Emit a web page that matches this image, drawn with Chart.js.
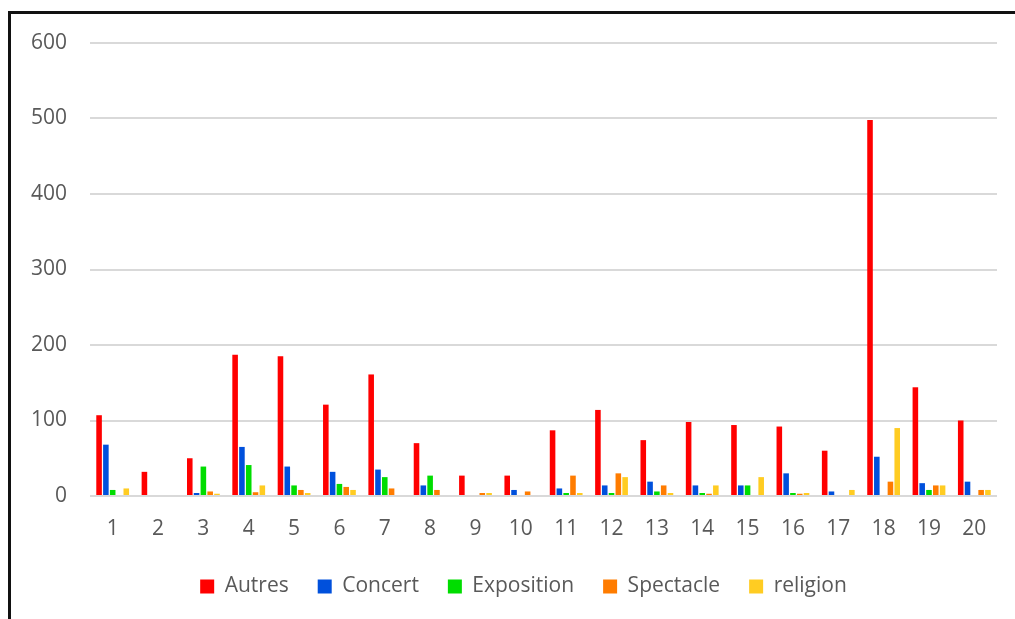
<!DOCTYPE html>
<html>
<head>
<meta charset="utf-8">
<script src="https://cdn.jsdelivr.net/npm/chart.js@4.4.1/dist/chart.umd.min.js"></script>
<style>
  html, body { margin: 0; padding: 0; background: #ffffff; }
  #wrap { position: relative; width: 1015px; height: 619px; overflow: hidden; }
  #frame {
    position: absolute; left: 8px; top: 11px; right: -10px; bottom: -10px;
    border-left: 3px solid #111; border-top: 3px solid #111;
    pointer-events: none;
  }
  canvas { position: absolute; left: 0; top: 0; }
</style>
</head>
<body>
<div id="wrap">
  <canvas id="chart" width="1015" height="619"></canvas>
  <div id="frame"></div>
</div>
<script>
// Categories (1..20) and values per activity type
const categories = ['1','2','3','4','5','6','7','8','9','10','11','12','13','14','15','16','17','18','19','20'];
const autres     = [107, 32, 50, 187, 185, 121, 161, 70, 27, 27, 87, 114, 74, 98, 94, 92, 60, 498, 144, 100];
const concert    = [68, 0, 4, 65, 39, 32, 35, 14, 0, 8, 10, 14, 19, 14, 14, 30, 6, 52, 17, 19];
const exposition = [8, 0, 39, 41, 14, 16, 25, 27, 0, 0, 4, 4, 6, 4, 14, 4, 0, 0, 8, 0];
const spectacle  = [0, 0, 6, 5, 8, 12, 10, 8, 4, 6, 27, 30, 14, 3, 0, 3, 0, 19, 14, 8];
const religion   = [10, 0, 3, 14, 4, 8, 0, 0, 4, 0, 4, 25, 4, 14, 25, 4, 8, 90, 14, 8];
const yTicks     = [0, 100, 200, 300, 400, 500, 600];

const FONT = "'Open Sans', 'DejaVu Sans', sans-serif";
const TEXT = '#595959';

const series = [
  { label: 'Autres',     data: autres,     color: '#ff0000' },
  { label: 'Concert',    data: concert,    color: '#0050dc' },
  { label: 'Exposition', data: exposition, color: '#00dd00' },
  { label: 'Spectacle',  data: spectacle,  color: '#ff7c00' },
  { label: 'religion',   data: religion,   color: '#ffcc22' }
];

// Centre the legend under the whole frame rather than the padded layout box
const legendShift = {
  id: 'legendShift',
  afterLayout(chart) {
    const lg = chart.legend;
    if (lg) { lg.left += 20; lg.right += 20; }
  }
};

new Chart(document.getElementById('chart'), {
  type: 'bar',
  data: {
    labels: categories,
    datasets: series.map(s => ({
      label: s.label,
      data: s.data,
      backgroundColor: s.color,
      borderWidth: 0,
      barPercentage: 0.82,
      categoryPercentage: 0.75
    }))
  },
  plugins: [legendShift],
  options: {
    responsive: false,
    animation: false,
    devicePixelRatio: 1,
    layout: { padding: { left: 10, right: 18, top: 43, bottom: 12 } },
    plugins: {
      tooltip: { enabled: false },
      legend: {
        position: 'bottom',
        labels: {
          font: { family: FONT, size: 21 },
          color: TEXT,
          boxWidth: 14,
          boxHeight: 14,
          padding: 29
        }
      }
    },
    scales: {
      x: {
        grid: { display: false, drawTicks: false },
        border: { display: false },
        ticks: { font: { family: FONT, size: 21 }, color: TEXT, padding: 20, maxRotation: 0 },
        afterFit: s => { s.height = 51; }
      },
      y: {
        min: 0,
        max: 600,
        afterBuildTicks: s => { s.ticks = yTicks.map(v => ({ value: v })); },
        grid: { color: '#d9d9d9', lineWidth: 2, drawTicks: false },
        border: { display: false },
        ticks: { font: { family: FONT, size: 21 }, color: TEXT, padding: 23 },
        afterFit: s => { s.width = 80; }
      }
    }
  }
});
</script>
</body>
</html>
